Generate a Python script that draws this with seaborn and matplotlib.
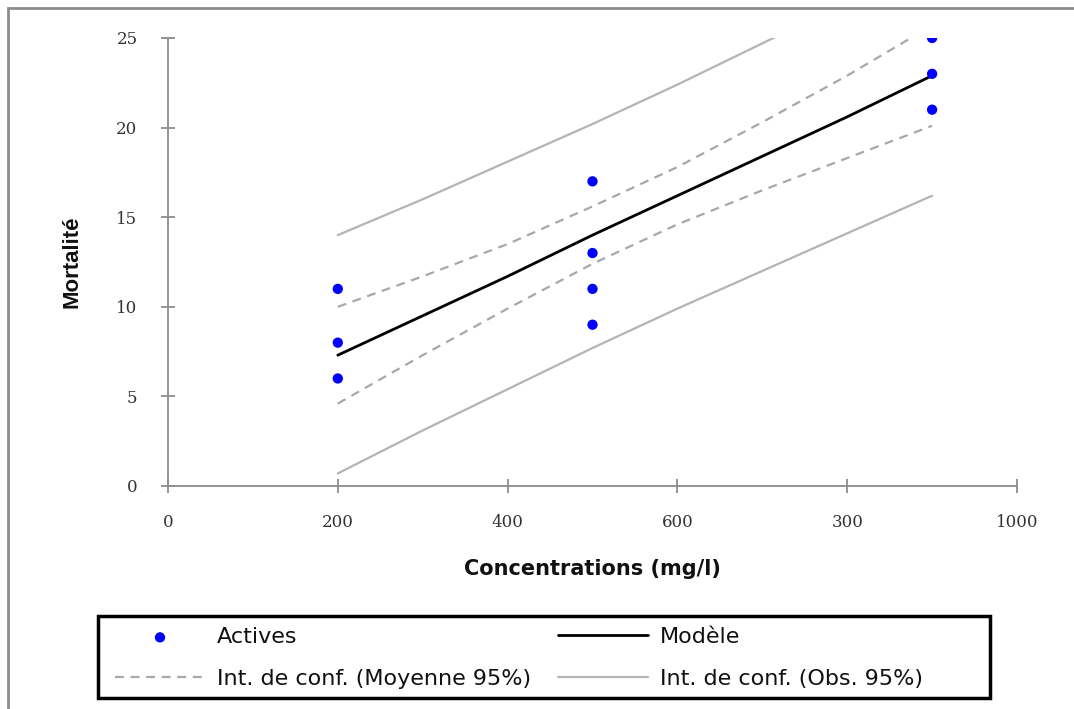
import matplotlib
matplotlib.use("Agg")
import matplotlib.pyplot as plt
import numpy as np
import pandas as pd
import seaborn as sns
from matplotlib.patches import Rectangle

# observed points
conc_obs = [200, 200, 200, 500, 500, 500, 500, 900, 900, 900]
mort_obs = [6, 8, 11, 9, 11, 13, 17, 21, 23, 25]

# model and bands
conc_grid = [200, 300, 400, 500, 600, 700, 800, 900]
model = [7.3, 9.5, 11.7, 14.0, 16.2, 18.4, 20.6, 22.9]
mean_hi = [10.0, 11.7, 13.5, 15.6, 17.8, 20.3, 22.9, 25.7]
mean_lo = [4.6, 7.3, 9.9, 12.4, 14.6, 16.5, 18.3, 20.1]
obs_hi = [14.0, 16.0, 18.1, 20.2, 22.4, 24.7, 27.0, 29.4]
obs_lo = [0.7, 3.1, 5.4, 7.7, 9.9, 12.0, 14.1, 16.2]

x_ticks = [0, 200, 400, 600, 800, 1000]
x_ticklabels = ["0", "200", "400", "600", "300", "1000"]
y_ticks = [0, 5, 10, 15, 20, 25]

sns.set_style("white")
plt.rcParams["font.family"] = ["DejaVu Sans"]

pts = pd.DataFrame({"conc": conc_obs, "mort": mort_obs})
lines = pd.DataFrame({
    "conc": conc_grid,
    "model": model,
    "mean_hi": mean_hi,
    "mean_lo": mean_lo,
    "obs_hi": obs_hi,
    "obs_lo": obs_lo,
})

W, H = 1074, 709
fig = plt.figure(figsize=(W / 100, H / 100), dpi=100)
ax = fig.add_axes([168 / W, 1 - 486 / H, (1017 - 168) / W, (486 - 38) / H])

band_grey = "#b4b4b4"
dash_grey = "#a8a8a8"

sns.lineplot(data=lines, x="conc", y="obs_hi", ax=ax, color=band_grey, lw=1.6,
             label="Int. de conf. (Obs. 95%)")
sns.lineplot(data=lines, x="conc", y="obs_lo", ax=ax, color=band_grey, lw=1.6)
sns.lineplot(data=lines, x="conc", y="mean_hi", ax=ax, color=dash_grey, lw=1.6,
             label="Int. de conf. (Moyenne 95%)")
sns.lineplot(data=lines, x="conc", y="mean_lo", ax=ax, color=dash_grey, lw=1.6)
for ln in ax.lines:
    if ln.get_color() == dash_grey:
        ln.set_linestyle((0, (4, 3)))
sns.lineplot(data=lines, x="conc", y="model", ax=ax, color="black", lw=2.0,
             label="Modèle")
sns.scatterplot(data=pts, x="conc", y="mort", ax=ax, color="#0000ff", s=55,
                edgecolor="none", label="Actives", zorder=5)

ax.set_xlim(0, 1000)
ax.set_ylim(0, 25)
ax.set_xticks(x_ticks)
ax.set_xticklabels(x_ticklabels)
ax.set_yticks(y_ticks)

for side in ["top", "right"]:
    ax.spines[side].set_visible(False)
for side in ["left", "bottom"]:
    ax.spines[side].set_color("#8c8c8c")
    ax.spines[side].set_linewidth(1.3)
ax.tick_params(axis="both", direction="inout", length=10, width=1.3,
               color="#8c8c8c", labelsize=12, labelcolor="#333333",
               bottom=True, left=True)
ax.tick_params(axis="y", pad=17)
ax.tick_params(axis="x", pad=15)
for lab in ax.get_xticklabels() + ax.get_yticklabels():
    lab.set_family(["DejaVu Serif"])

ax.set_xlabel("Concentrations (mg/l)", fontsize=15, fontweight="bold",
              labelpad=20, color="#111111")
ax.set_ylabel("Mortalité", fontsize=16, fontweight="bold", labelpad=24,
              color="#111111",
              family=["Liberation Sans Narrow", "Liberation Sans", "DejaVu Sans"])

handles, labels = ax.get_legend_handles_labels()
order = ["Actives", "Int. de conf. (Moyenne 95%)", "Modèle", "Int. de conf. (Obs. 95%)"]
hmap = dict(zip(labels, handles))
ax.get_legend().remove()
leg = fig.legend([hmap[k] for k in order], order, ncol=2,
                 bbox_to_anchor=(115 / W, 1 - 658 / H), loc="center left",
                 frameon=False, handlelength=4.05, handletextpad=0.55,
                 columnspacing=1.2, labelspacing=0.97, borderpad=0,
                 borderaxespad=0,
                 prop={"family": ["DejaVu Sans"], "size": 16})
for t in leg.get_texts():
    t.set_color("#111111")

# legend frame, as in the source it is wider than its content
fig.patches.append(Rectangle((98 / W, 1 - 698 / H), (990 - 98) / W, (698 - 616) / H,
                             transform=fig.transFigure, fill=False,
                             edgecolor="black", lw=2.5))
# outer chart border
fig.patches.append(Rectangle((8 / W, -0.05), 1.2, 1 - 8 / H + 0.05,
                             transform=fig.transFigure, fill=False,
                             edgecolor="#8c8c8c", lw=2))

fig.savefig("out.png", dpi=100)
